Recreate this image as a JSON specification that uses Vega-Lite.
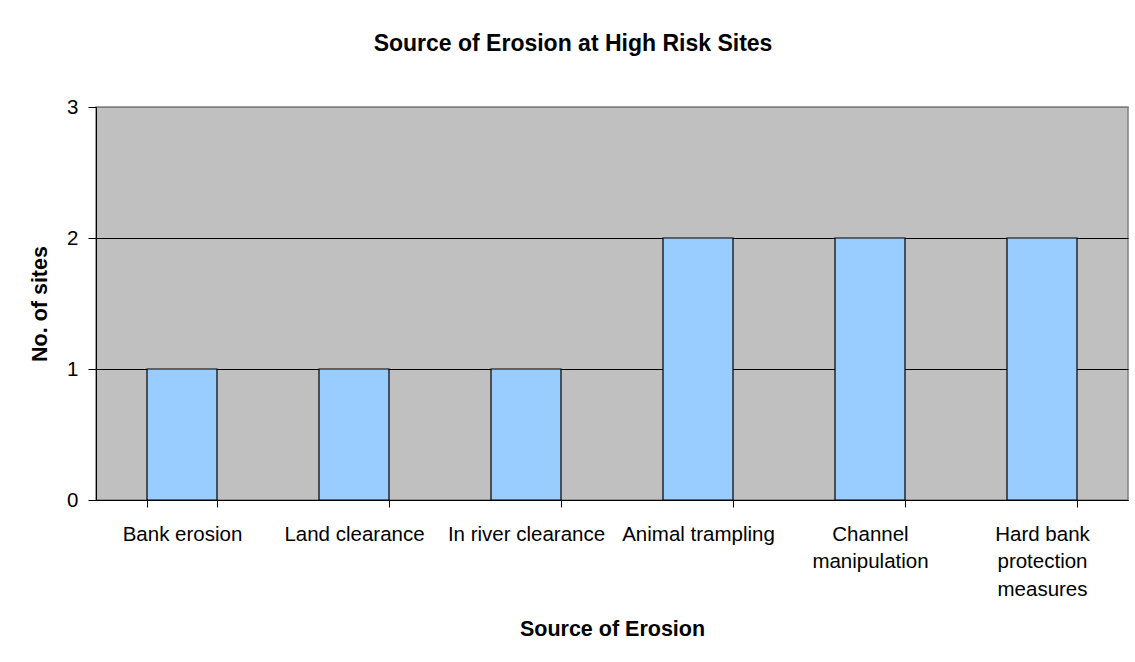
{
  "$schema": "https://vega.github.io/schema/vega-lite/v6.json",
  "autosize": "none",
  "width": 1032,
  "height": 393,
  "padding": {"left": 96, "top": 107, "right": 7, "bottom": 162},
  "background": "white",
  "title": {
    "text": "Source of Erosion at High Risk Sites",
    "font": "Liberation Sans",
    "fontSize": 23,
    "fontWeight": "bold",
    "color": "black",
    "anchor": "middle",
    "frame": "group",
    "dx": -39,
    "offset": 41
  },
  "data": {
    "values": [
      {"source": "Bank erosion", "sites": 1},
      {"source": "Land clearance", "sites": 1},
      {"source": "In river clearance", "sites": 1},
      {"source": "Animal trampling", "sites": 2},
      {"source": "Channel manipulation", "sites": 2},
      {"source": "Hard bank protection measures", "sites": 2}
    ]
  },
  "mark": {"type": "bar", "color": "#99CCFF", "stroke": "black", "strokeWidth": 1.2},
  "encoding": {
    "x": {
      "field": "source",
      "type": "nominal",
      "sort": null,
      "scale": {"paddingInner": 0.593, "paddingOuter": 0.2965},
      "axis": {
        "title": "Source of Erosion",
        "titleFont": "Liberation Sans",
        "titleFontSize": 21.5,
        "titleFontWeight": "bold",
        "titleColor": "black",
        "titlePadding": 19,
        "labelAngle": 0,
        "labelFont": "Liberation Sans",
        "labelFontSize": 20.5,
        "labelColor": "black",
        "labelPadding": 17,
        "labelLineHeight": 27.5,
        "labelLimit": 400,
        "labelOverlap": false,
        "labelExpr": "datum.label == 'Channel manipulation' ? ['Channel', 'manipulation'] : datum.label == 'Hard bank protection measures' ? ['Hard bank', 'protection', 'measures'] : datum.label",
        "tickBand": "extent",
        "tickSize": 7,
        "tickColor": "black",
        "domainColor": "black",
        "grid": false
      }
    },
    "y": {
      "field": "sites",
      "type": "quantitative",
      "scale": {"domain": [0, 3], "nice": false},
      "axis": {
        "title": "No. of sites",
        "titleFont": "Liberation Sans",
        "titleFontSize": 21.5,
        "titleFontWeight": "bold",
        "titleColor": "black",
        "titlePadding": 15,
        "values": [0, 1, 2, 3],
        "labelFont": "Liberation Sans",
        "labelFontSize": 20.5,
        "labelColor": "black",
        "labelPadding": 10,
        "tickSize": 8,
        "tickColor": "black",
        "domainColor": "black",
        "grid": true,
        "gridColor": {"condition": {"test": "datum.value == 3", "value": "#808080"}, "value": "black"},
        "gridOpacity": 1
      }
    }
  },
  "config": {
    "view": {"fill": "#C0C0C0", "stroke": "#808080", "strokeWidth": 1.5}
  }
}
